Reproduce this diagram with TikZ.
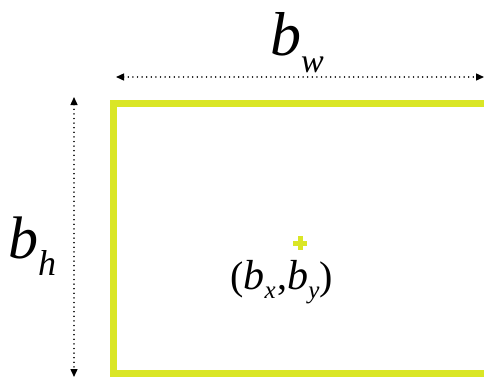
\documentclass[tikz,border=0pt]{standalone}
\usepackage{fontspec}
\newfontfamily\timesit{Liberation Serif}
\usetikzlibrary{arrows.meta}
\definecolor{lime}{RGB}{218,230,38}
\tikzset{
  dimline/.style={line width=1.4pt, line cap=round, dash pattern=on 0.1pt off 4.5pt,
    {Triangle[length=8pt,width=7pt]}-{Triangle[length=8pt,width=7pt]}},
  box/.style={draw=lime, line width=7pt},
  lbl/.style={inner sep=0pt, anchor=base west},
}
\newcommand{\mi}[2]{{\timesit\fontsize{#1}{#1}\selectfont\itshape #2}}
\begin{document}
\begin{tikzpicture}[x=1pt,y=-1pt]
\useasboundingbox (0,0) rectangle (484,378);
\fill[white] (0,0) rectangle (484,378);
\draw[box] (496,103) -- (113,103) -- (113,373) -- (496,373);
\coordinate (hl) at (116,77);
\coordinate (hr) at (484,77);
\coordinate (vt) at (74,97);
\coordinate (vb) at (74,377);
\draw[dimline] (hl) -- (hr);
\draw[dimline] (vt) -- (vb);
\draw[lime, line width=5pt] (293,243) -- (307,243) (300,236) -- (300,250);
\node[lbl] (bw) at (270,55) {\mi{62}{b}\raisebox{-17pt}{\mi{34}{w}}};
\node[lbl] (bh) at (8,258) {\mi{60}{b}\raisebox{-17pt}{\mi{36}{h}}};
\node[lbl] (bxy) at (230,289) {{\timesit\fontsize{40}{40}\selectfont(}\mi{42}{b}\raisebox{-9pt}{\mi{25}{x}}\,{\timesit\fontsize{40}{40}\selectfont,}\mi{42}{b}\raisebox{-9pt}{\mi{25}{y}}{\timesit\fontsize{40}{40}\selectfont)}};
\end{tikzpicture}
\end{document}
